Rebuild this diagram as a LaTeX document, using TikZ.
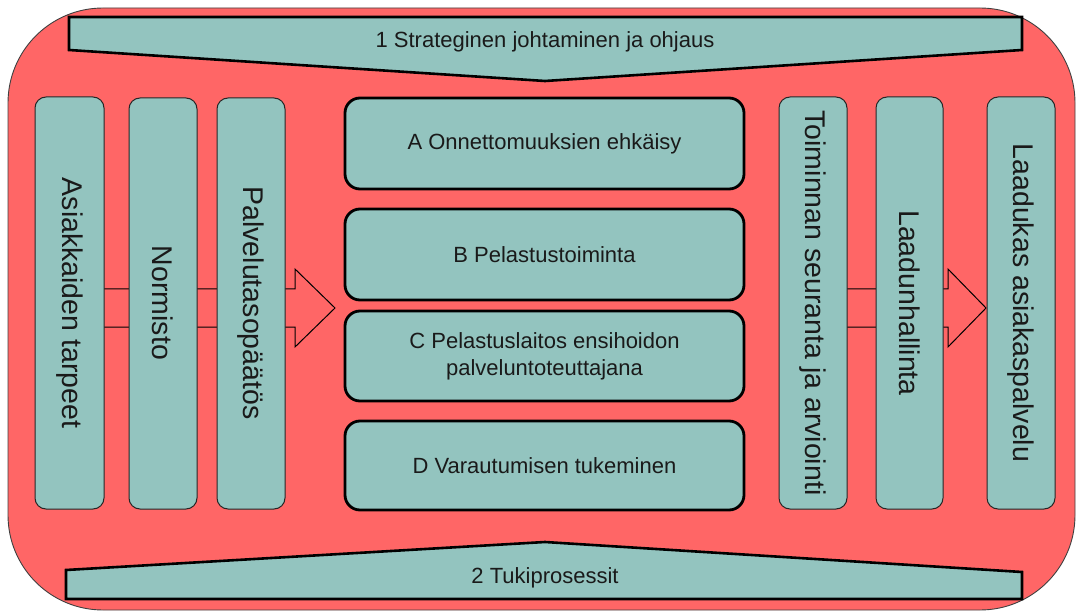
\documentclass[tikz,border=0pt]{standalone}
\usepackage{fontspec}
\setmainfont{Liberation Sans}
\definecolor{bgred}{HTML}{FF6666}
\definecolor{boxteal}{HTML}{93C4BF}
\definecolor{txt}{HTML}{1A1A1A}
\begin{document}
\begin{tikzpicture}[x=1pt,y=-1pt,
  frame/.style={fill=bgred,draw=black!75,line width=0.9pt,rounded corners=95pt},
  banner/.style={fill=boxteal,draw=black,line width=2.6pt,line join=miter},
  bantext/.style={font=\fontsize{22}{26}\selectfont,text=txt,inner sep=0pt},
  sidebox/.style={fill=boxteal,draw=black!85,line width=1pt,rounded corners=11pt},
  sidetext/.style={font=\fontsize{28.5}{32}\selectfont,text=txt,rotate=-90,inner sep=0pt},
  mainbox/.style={fill=boxteal,draw=black,line width=2.8pt,rounded corners=15pt},
  maintext/.style={font=\fontsize{22}{27}\selectfont,text=txt,align=center,inner sep=0pt},
  blockarrow/.style={fill=bgred,draw=black,line width=1pt,line join=miter}]
\useasboundingbox (0,0) rectangle (1076,612);
% outer frame
\draw[frame] (8,8) rectangle (1075,610);
% banners
\draw[banner] (69,17) -- (1022,17) -- (1022,50) -- (545,81) -- (69,50) -- cycle;
\node[bantext] (top) at (545,42) {1 Strateginen johtaminen ja ohjaus};
\draw[banner] (66,599) -- (1022,599) -- (1022,572) -- (545,542) -- (66,570) -- cycle;
\node[bantext] (bot) at (545,578) {2 Tukiprosessit};
% block arrows (behind boxes)
\coordinate (la1) at (70,289);
\coordinate (lt) at (335,308);
\draw[blockarrow] (la1) -- (295,289) -- (295,269) -- (lt) -- (295,347) -- (295,327) -- (70,327) -- cycle;
\coordinate (ra1) at (812,289);
\coordinate (rt) at (986,308);
\draw[blockarrow] (ra1) -- (948,289) -- (948,269) -- (rt) -- (948,347) -- (948,327) -- (812,327) -- cycle;
% left boxes
\draw[sidebox] (35,97) rectangle (104,509);
\node[sidetext] (s1) at (69.5,303) {Asiakkaiden tarpeet};
\draw[sidebox] (129,98) rectangle (197,509);
\node[sidetext] (s2) at (163,303) {Normisto};
\draw[sidebox] (217,98) rectangle (285,509);
\node[sidetext] (s3) at (251,303) {Palvelutasopäätös};
% right boxes
\draw[sidebox] (779,97) rectangle (847,509);
\node[sidetext] (s4) at (813,303) {Toiminnan seuranta ja arviointi};
\draw[sidebox] (876,97) rectangle (943,509);
\node[sidetext] (s5) at (909.5,303) {Laadunhallinta};
\draw[sidebox] (987,97) rectangle (1055,509);
\node[sidetext] (s6) at (1021,303) {Laadukas asiakaspalvelu};
% main boxes
\draw[mainbox] (345,98) rectangle (744,189);
\node[maintext] (a) at (544.5,143.5) {A Onnettomuuksien ehkäisy};
\draw[mainbox] (345,209) rectangle (744,300);
\node[maintext] (b) at (544.5,254.5) {B Pelastustoiminta};
\draw[mainbox] (345,311) rectangle (744,401);
\node[maintext] (c) at (544.5,356) {C Pelastuslaitos ensihoidon\\palveluntoteuttajana};
\draw[mainbox] (345,421) rectangle (744,510);
\node[maintext] (d) at (544.5,465.5) {D Varautumisen tukeminen};
\end{tikzpicture}
\end{document}
